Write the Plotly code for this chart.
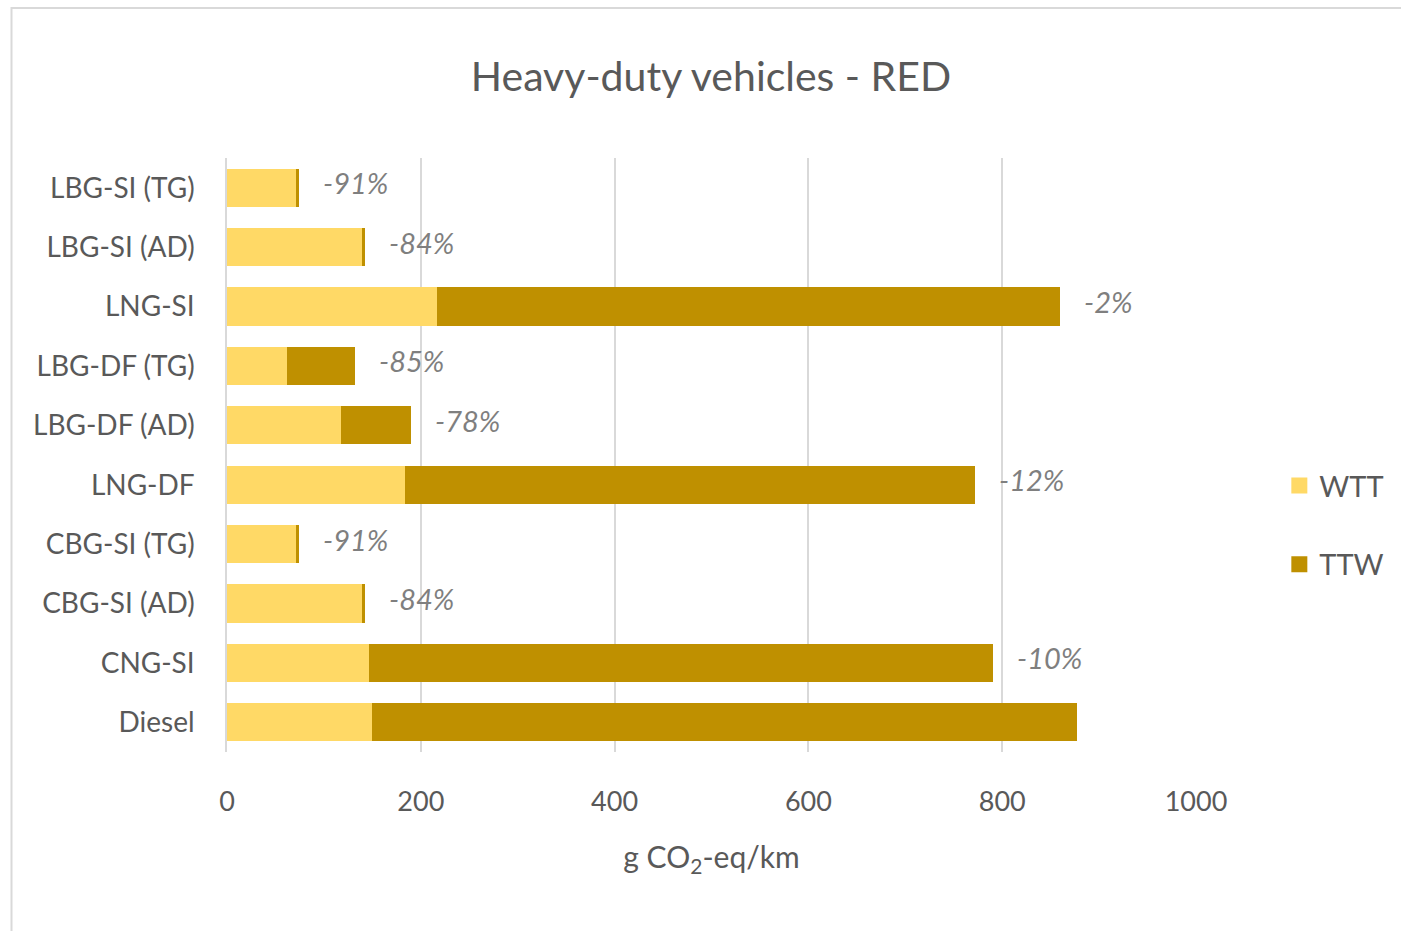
import plotly.graph_objects as go

# Well-to-tank and tank-to-wheel emissions per vehicle pathway (g CO2-eq/km)
categories = ["LBG-SI (TG)", "LBG-SI (AD)", "LNG-SI", "LBG-DF (TG)", "LBG-DF (AD)",
              "LNG-DF", "CBG-SI (TG)", "CBG-SI (AD)", "CNG-SI", "Diesel"]
wtt = [72, 140, 217, 62, 118, 184, 72, 140, 147, 150]
ttw = [2, 2, 643, 70, 72, 588, 2, 2, 644, 727]
change_labels = ["-91%", "-84%", "-2%", "-85%", "-78%", "-12%", "-91%", "-84%", "-10%", ""]
x_ticks = [0, 200, 400, 600, 800, 1000]

FONT = "Lato"
TEXT = "#595959"
WTT_COLOR = "#FFD966"
TTW_COLOR = "#BF9000"

fig = go.Figure()
fig.add_trace(go.Bar(name="WTT", y=categories, x=wtt, orientation="h", showlegend=False,
                     marker=dict(color=WTT_COLOR, line=dict(width=0))))
fig.add_trace(go.Bar(name="TTW", y=categories, x=ttw, orientation="h", showlegend=False,
                     marker=dict(color=TTW_COLOR, line=dict(width=0))))

# Legend entries with larger square swatches
for name, color in [("WTT", WTT_COLOR), ("TTW", TTW_COLOR)]:
    fig.add_trace(go.Scatter(x=[None], y=[None], mode="markers", name=name, legendgroup=name,
                             marker=dict(symbol="square", size=18, color=color)))

# Reduction relative to diesel, placed just past each bar end
for cat, a, b, lab in zip(categories, wtt, ttw, change_labels):
    if lab:
        fig.add_annotation(x=a + b, y=cat, text=lab, showarrow=False,
                           xanchor="left", xshift=22, yshift=5,
                           font=dict(family=FONT, size=29, color="#7F7F7F", style="italic"))

# Outer chart frame
fig.add_shape(type="rect", xref="paper", yref="paper",
              x0=-0.2224, x1=1.3, y0=-0.4, y1=1.2525,
              line=dict(color="#D9D9D9", width=2), fillcolor="rgba(0,0,0,0)", layer="below")

fig.update_layout(
    barmode="stack",
    bargap=0.36,
    width=1401, height=931,
    margin=dict(l=227, r=198, t=158, b=179),
    paper_bgcolor="white", plot_bgcolor="white",
    title=dict(text="Heavy-duty vehicles - RED", x=0.5075, xanchor="center",
               y=1 - 77 / 931, yanchor="middle",
               font=dict(family=FONT, size=41, color=TEXT)),
    font=dict(family=FONT, color=TEXT),
    legend=dict(x=1.086, y=0.382, xanchor="left", yanchor="middle",
                font=dict(family=FONT, size=29, color=TEXT),
                tracegroupgap=38, itemwidth=30, traceorder="grouped"),
    showlegend=True,
)
fig.update_xaxes(range=[0, 1000], tickvals=x_ticks, showgrid=True, gridcolor="#D9D9D9",
                 gridwidth=1.5, zeroline=False, showline=False,
                 ticks="outside", ticklen=26, tickcolor="rgba(0,0,0,0)",
                 tickfont=dict(family=FONT, size=27, color=TEXT),
                 title=dict(text="g CO<sub>2</sub>-eq/km", standoff=30,
                            font=dict(family=FONT, size=30, color=TEXT)))
fig.update_yaxes(autorange="reversed", showgrid=False, showline=True, linecolor="#D9D9D9",
                 linewidth=1.5, ticks="outside", ticklen=25, tickcolor="rgba(0,0,0,0)",
                 tickfont=dict(family=FONT, size=28, color=TEXT))

fig.write_html("out.html")
